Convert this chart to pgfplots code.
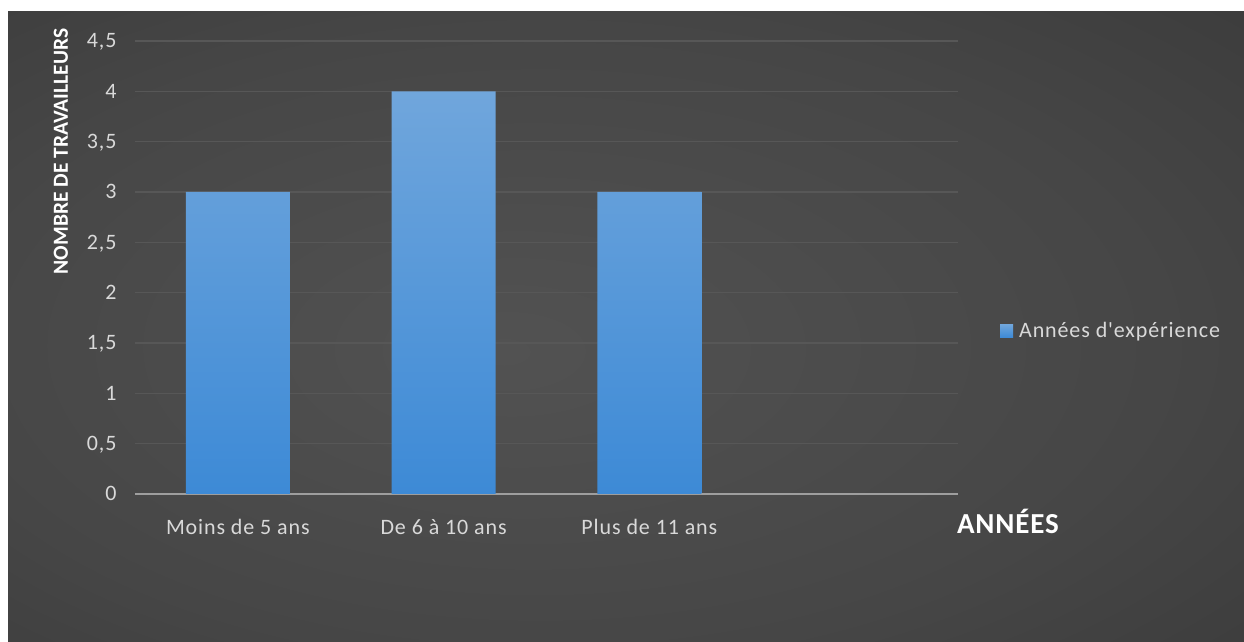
\documentclass[border=0pt]{standalone}
\usepackage{fontspec}
\setmainfont{Carlito}[Ligatures=TeXOff]
\usepackage{pgfplots}
\pgfplotsset{compat=1.18}

\definecolor{bgA}{HTML}{525252}
\definecolor{bgB}{HTML}{464646}
\definecolor{bgC}{HTML}{343434}
\definecolor{bgD}{HTML}{242424}
\definecolor{gridc}{HTML}{575757}
\definecolor{axisc}{HTML}{9E9E9E}
\definecolor{tickc}{HTML}{D9D9D9}
\definecolor{bartop}{HTML}{70A6DC}
\definecolor{barbot}{HTML}{3D8AD6}

\pgfdeclareradialshading{chartbg}{\pgfpoint{-5bp}{-2bp}}{%
  color(0bp)=(bgA); color(25bp)=(bgB); color(50bp)=(bgC); color(72bp)=(bgD)}

\newcommand\labelfont{\fontsize{22}{26}\selectfont\addfontfeature{LetterSpace=4}}

\begin{document}
\begin{tikzpicture}
  \useasboundingbox (0pt,0pt) rectangle (1244pt,642pt);
  \fill[white] (0pt,0pt) rectangle (1244pt,642pt);
  \shade[shading=chartbg] (8pt,0pt) rectangle (1244pt,630pt);
  \begin{axis}[
    at={(135pt,148pt)}, anchor=south west,
    scale only axis, width=823pt, height=453pt,
    xmin=-0.5, xmax=3.5, ymin=0, ymax=4.5,
    axis x line*=bottom, axis y line*=left,
    axis line style={draw=none},
    ytick={0,0.5,...,4.5},
    xtick={0,1,2,3},
    xticklabels={Moins de 5 ans, De 6 à 10 ans, Plus de 11 ans, {}},
    major tick length=0pt,
    ymajorgrids, grid style={draw=gridc, line width=1.3pt},
    extra y ticks={0}, extra y tick labels={},
    extra y tick style={grid style={draw=axisc, line width=1.6pt}},
    /pgf/number format/.cd, use comma, fixed, assume math mode=true,
    /pgfplots/.cd,
    yticklabel style={font=\labelfont, text=tickc,
      anchor=base east, xshift=-15pt, yshift=-7pt},
    xticklabel style={font=\labelfont, text=tickc,
      anchor=base, yshift=-41pt},
    ylabel={NOMBRE DE TRAVAILLEURS},
    ylabel style={at={(rel axis cs:-0.09,0.756)}, anchor=center, rotate=0,
      font=\bfseries\fontsize{21.5}{26}\selectfont, text=white},
    xlabel={ANNÉES},
    xlabel style={at={(rel axis cs:1.0607,-0.0596)}, anchor=center,
      font=\bfseries\fontsize{29}{32}\selectfont\addfontfeature{LetterSpace=3},
      text=white},
    ybar, bar width=104pt,
    legend style={at={(rel axis cs:1.051,0.36)}, anchor=west, draw=none,
      fill=none, text=tickc, font=\labelfont, inner sep=0pt,
      nodes={inner xsep=6pt}},
    legend image code/.code={\fill[barbot] (0pt,-6.5pt) rectangle (13pt,6.5pt);},
  ]
    \addplot[draw=none, top color=bartop, bottom color=barbot]
      coordinates {(0,3) (1,4) (2,3)};
    \addlegendentry{Années d'expérience}
  \end{axis}
\end{tikzpicture}
\end{document}
